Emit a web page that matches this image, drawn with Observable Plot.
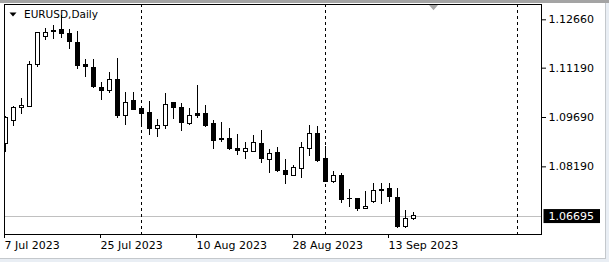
<!DOCTYPE html>
<html><head><meta charset="utf-8">
<script src="https://cdn.jsdelivr.net/npm/d3@7"></script>
<script src="https://cdn.jsdelivr.net/npm/@observablehq/plot@0.6"></script>
<style>
html,body{margin:0;padding:0;background:#fff;}
#chart svg{display:block;box-shadow:inset 0 3px 0 #a4a4a4, inset -3px -3px 0 #e9eef4, inset -4px -4px 0 #c4c8cc;}
</style></head><body><div id="chart"></div>
<script>
const symbolTitle = "EURUSD,Daily";
const dates = [
 "2023-07-07","2023-07-10","2023-07-11","2023-07-12","2023-07-13","2023-07-14","2023-07-17","2023-07-18","2023-07-19","2023-07-20","2023-07-21","2023-07-24","2023-07-25","2023-07-26","2023-07-27","2023-07-28","2023-07-31",
 "2023-08-01","2023-08-02","2023-08-03","2023-08-04","2023-08-07","2023-08-08","2023-08-09","2023-08-10","2023-08-11","2023-08-14","2023-08-15","2023-08-16","2023-08-17","2023-08-18","2023-08-21","2023-08-22","2023-08-23","2023-08-24","2023-08-25","2023-08-28","2023-08-29","2023-08-30","2023-08-31",
 "2023-09-01","2023-09-04","2023-09-05","2023-09-06","2023-09-07","2023-09-08","2023-09-11","2023-09-12","2023-09-13","2023-09-14","2023-09-15","2023-09-18"];
const open  = [1.08870,1.09584,1.09985,1.10003,1.11292,1.12152,1.12326,1.12365,1.12234,1.11961,1.11301,1.11201,1.10593,1.10490,1.10815,1.09736,1.10207,
               1.09934,1.09812,1.09335,1.09426,1.10116,1.09985,1.09499,1.09782,1.09782,1.09478,1.09022,1.09022,1.08748,1.08648,1.08648,1.08900,1.08405,1.08617,1.08049,1.07927,1.08119,1.08718,1.09195,
               1.08414,1.07724,1.07927,1.07219,1.07219,1.06915,1.07116,1.07493,1.07502,1.07250,1.06377,1.06605];
const high  = [1.09721,1.10025,1.10268,1.11393,1.12274,1.12396,1.12478,1.12791,1.12365,1.12295,1.11453,1.11453,1.10763,1.11067,1.11475,1.10459,1.10459,
               1.10003,1.10177,1.09630,1.10411,1.10146,1.10107,1.09955,1.10663,1.10055,1.09599,1.09548,1.09347,1.09174,1.08931,1.09143,1.09295,1.08709,1.08769,1.08414,1.08231,1.08940,1.09447,1.09426,
               1.08800,1.08058,1.07979,1.07493,1.07228,1.07432,1.07693,1.07693,1.07675,1.07523,1.06864,1.06803];
const low   = [1.08627,1.09417,1.09772,1.09994,1.11219,1.12031,1.12052,1.12082,1.11748,1.11158,1.10915,1.10581,1.10207,1.10411,1.09651,1.09432,1.09903,
               1.09402,1.09143,1.09092,1.09335,1.09639,1.09274,1.09456,1.09651,1.09396,1.08718,1.08940,1.08687,1.08535,1.08414,1.08627,1.08301,1.07997,1.08010,1.07645,1.07906,1.07827,1.08505,1.08323,
               1.07700,1.07675,1.07067,1.06946,1.06842,1.06909,1.07067,1.07046,1.07116,1.06307,1.06307,1.06560];
const close = [1.09690,1.09994,1.10046,1.11271,1.12253,1.12265,1.12295,1.12222,1.11979,1.11256,1.11219,1.10611,1.10490,1.10815,1.09721,1.10137,1.09918,
               1.09791,1.09335,1.09447,1.10076,1.09985,1.09517,1.09721,1.09730,1.09426,1.08991,1.09007,1.08727,1.08657,1.08718,1.08921,1.08423,1.08596,1.08049,1.07949,1.08162,1.08769,1.09195,1.08383,
               1.07715,1.07918,1.07168,1.07198,1.06894,1.06985,1.07450,1.07450,1.07268,1.06377,1.06590,1.06695];
const bid = 1.06695;
const yTicks = [1.12660, 1.11190, 1.09690, 1.08190];
const xTickDates  = ["2023-07-07","2023-07-25","2023-08-10","2023-08-28","2023-09-13"];
const xTickLabels = ["7 Jul 2023","25 Jul 2023","10 Aug 2023","28 Aug 2023","13 Sep 2023"];
const separatorIdx = [17, 40, 64];   // period separators (bar positions)
const shiftIdx = [53.5];             // chart shift marker (bar position)
const xDomain = [-0.125, 67];
const yDomain = [1.06134, 1.13125];

const candles = dates.map((d, i) => ({i, date: d, o: open[i], h: high[i], l: low[i], c: close[i]}));
const xTickIdx = xTickDates.map(d => dates.indexOf(d));

const flatDown = {draw(ctx, size) {
  const r = Math.sqrt(size / Math.PI);
  ctx.moveTo(-r, -r * 0.55); ctx.lineTo(r, -r * 0.55); ctx.lineTo(0, r * 0.6); ctx.closePath();
}};

const chart = Plot.plot({
  width: 609, height: 262,
  marginLeft: 4, marginRight: 68, marginTop: 4, marginBottom: 28,
  style: {fontFamily: "DejaVu Sans", fontSize: "11px", color: "black", background: "white"},
  x: {domain: xDomain, label: null},
  y: {domain: yDomain, label: null},
  marks: [
    Plot.ruleY([bid], {stroke: "#c0c0c0", shapeRendering: "crispEdges"}),
    Plot.ruleX(separatorIdx, {x: d => d, stroke: "black", strokeDasharray: "3,3", shapeRendering: "crispEdges"}),
    Plot.ruleX(candles, {x: "i", y1: "l", y2: "h", stroke: "black", clip: true, shapeRendering: "crispEdges"}),
    Plot.rect(candles, {x1: d => d.i - 0.25, x2: d => d.i + 0.25, y1: "o", y2: "c",
      fill: d => d.c >= d.o ? "white" : "black", stroke: "black", clip: true, shapeRendering: "crispEdges"}),
    Plot.dot(shiftIdx, {x: d => d, frameAnchor: "top", dy: 3, symbol: flatDown, r: 4.5, fill: "#a8a8a8", stroke: null}),
    Plot.dot([symbolTitle], {frameAnchor: "top-left", dx: 8.5, dy: 10, symbol: flatDown, r: 3.5, fill: "black", stroke: null}),
    Plot.text([symbolTitle], {text: d => d, frameAnchor: "top-left", dx: 19.5, dy: 10.5, textAnchor: "start", lineAnchor: "middle", fontSize: 10.5, fill: "black"}),
    Plot.frame({stroke: "black", shapeRendering: "crispEdges"}),
    Plot.axisY({anchor: "right", ticks: yTicks, tickSize: 4, tickPadding: 3, tickFormat: d => d.toFixed(5), label: null}),
    Plot.axisY({anchor: "right", ticks: [bid], tickSize: 0, tickPadding: 7, tickFormat: d => d.toFixed(5), label: null}),
    Plot.axisX({anchor: "bottom", ticks: xTickIdx, tickSize: 4, tickPadding: 3, textAnchor: "start", dx: -1,
      tickFormat: i => xTickLabels[xTickIdx.indexOf(i)], label: null})
  ]
});
document.getElementById("chart").appendChild(chart);

// black background box behind the current bid price label
const bidTxt = Array.from(chart.querySelectorAll("text")).find(t => t.textContent === bid.toFixed(5));
if (bidTxt) {
  const bb = bidTxt.getBBox();
  const r = document.createElementNS("http://www.w3.org/2000/svg", "rect");
  r.setAttribute("x", bb.x - 5);
  r.setAttribute("y", bb.y + bb.height / 2 - 7);
  r.setAttribute("width", bb.width + 11);
  r.setAttribute("height", 14);
  r.setAttribute("fill", "black");
  r.setAttribute("stroke", "none");
  const tr = bidTxt.getAttribute("transform");
  if (tr) r.setAttribute("transform", tr);
  bidTxt.parentNode.insertBefore(r, bidTxt);
  bidTxt.setAttribute("fill", "white");
}
</script></body></html>
